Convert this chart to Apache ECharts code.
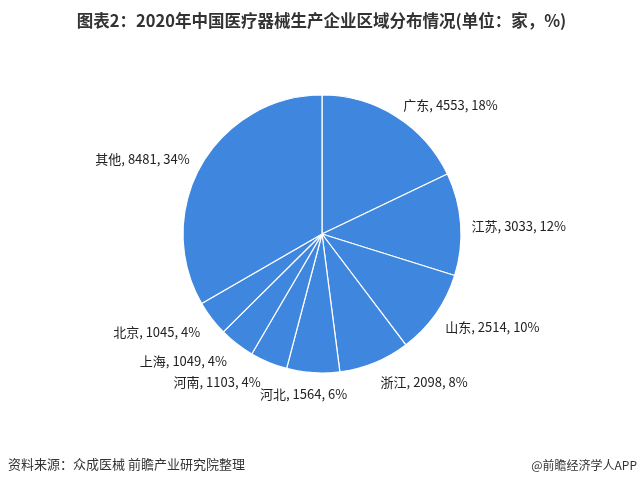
<!DOCTYPE html>
<html><head><meta charset="utf-8">
<script src="https://cdn.jsdelivr.net/npm/echarts@6/dist/echarts.min.js"></script>
<style>html,body{margin:0;padding:0;background:#fff}#c{width:643px;height:489px}</style>
</head><body><div id="c"></div>
<script>
const categories = ['广东','江苏','山东','浙江','河北','河南','上海','北京','其他'];
const values = [4553,3033,2514,2098,1564,1103,1049,1045,8481];
const percents = [18,12,10,8,6,4,4,4,34];
const titleText = '图表2：2020年中国医疗器械生产企业区域分布情况(单位：家，%)';
const sourceText = '资料来源：众成医械 前瞻产业研究院整理';
const brandText = '@前瞻经济学人APP';

const total = values.reduce((a,b)=>a+b,0);
const midAngles = [];
{ let acc = 0; values.forEach(v=>{ midAngles.push((acc + v/2)/total*2*Math.PI); acc += v; }); }

const chart = echarts.init(document.getElementById('c'));
const font = '"Noto Sans CJK SC","Noto Sans",sans-serif';
chart.setOption({
  animation:false,
  title:{text:titleText,left:'center',top:7,textStyle:{fontFamily:font,fontSize:16.5,fontWeight:'bold',color:'#333'}},
  graphic:[
    {type:'text',left:8,top:458,style:{text:sourceText,font:'13px '+font,fill:'#333'}},
    {type:'text',right:6,top:459,style:{text:brandText,font:'12px '+font,fill:'#333'}}
  ],
  series:[{
    type:'pie',
    center:[322,234],
    radius:[0,139],
    startAngle:90,
    clockwise:true,
    avoidLabelOverlap:false,
    itemStyle:{color:'#3f86de',borderColor:'#fff',borderWidth:1.2},
    label:{show:true,position:'outside',fontFamily:font,fontSize:13,color:'#222',
      formatter:p=>p.name+', '+p.value+', '+percents[p.dataIndex]+'%'},
    labelLine:{show:false,length:8,length2:2},
    labelLayout:function(p){
      const t = midAngles[p.dataIndex];
      const right = Math.sin(t) > 0;
      let dx = right ? -4 : 2;
      let dy = -Math.cos(t)*9 + 3.5;
      if (Math.abs(Math.sin(t)) < 0.15) { dx = right ? -p.labelRect.width/2 : p.labelRect.width/2 - 2; dy += 1; }
      return {dx:dx, dy:dy, hideOverlap:false, moveOverlap:null};
    },
    emphasis:{disabled:true},
    data:categories.map((c,i)=>({name:c,value:values[i]}))
  }]
});
</script></body></html>
